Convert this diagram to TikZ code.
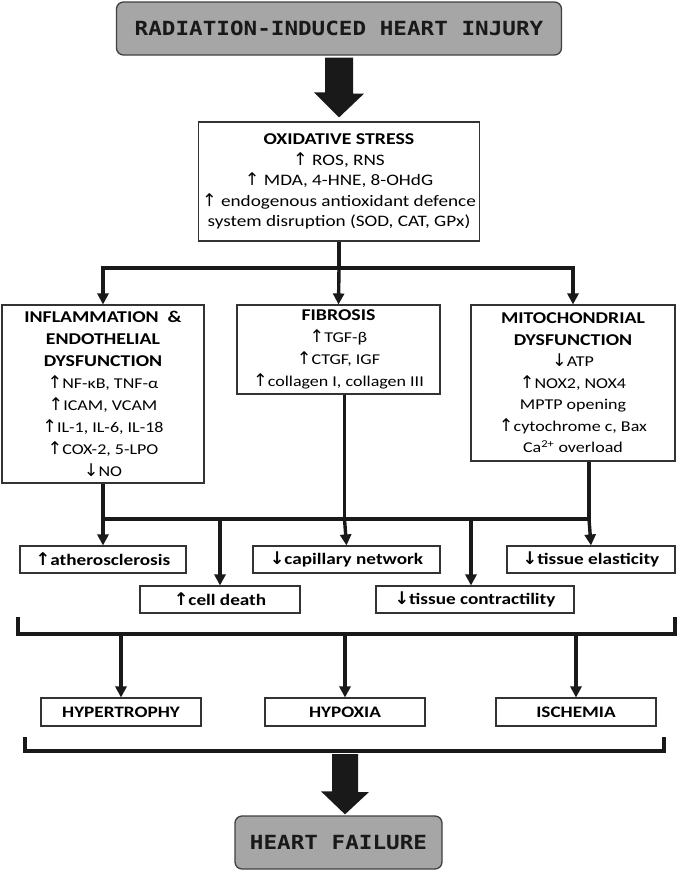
\documentclass[tikz,border=0pt]{standalone}
\usepackage{fontspec}
\setmainfont{Carlito}[FakeStretch=1.2]
\newfontfamily\headfont{DejaVu Sans Mono}[FakeStretch=1.16]
\newfontfamily\symfont{DejaVu Sans}
\usetikzlibrary{arrows.meta, positioning, calc}
\newcommand{\upar}{{\symfont\fontsize{17.5}{20}\selectfont ↑}}
\newcommand{\dnar}{{\symfont\fontsize{17.5}{20}\selectfont ↓}}
\newcommand{\hd}[1]{{\bfseries\fontsize{16.5}{22}\selectfont #1}}

\begin{document}
\begin{tikzpicture}[x=1pt, y=-1pt,
        headbox/.style={draw=black!75, line width=1.3pt, fill=black!35, rounded corners=7pt, font=\headfont\bfseries\fontsize{19.5}{24}\selectfont, text=black!90},
        box/.style={draw=black!80, line width=1.1pt, fill=white, align=center, inner sep=2pt, font=\fontsize{15}{21}\selectfont},
        effect/.style={draw=black!80, line width=1.1pt, fill=white, minimum height=27pt, inner sep=2pt, font=\bfseries\fontsize{16}{18}\selectfont},
        line/.style={line width=3.4pt, black!90},
        arrow/.style={line, -{Triangle[length=11pt, width=11pt]}},
        bigarrow/.style={fill=black!90}
    ]
        \useasboundingbox (0,0) rectangle (678,871);

        % === Top ===
        \node[headbox, minimum width=445pt, minimum height=53pt] (injury) at (339,28.5) {RADIATION-INDUCED HEART INJURY};

        \node[box, minimum width=281pt, minimum height=119pt, font=\fontsize{16}{20.5}\selectfont] (oxid) at (339,181.5)
            {\hd{OXIDATIVE STRESS}\\
             \upar\ ROS, RNS\\
             \upar\ MDA, 4-HNE, 8-OHdG\\
             \upar\ endogenous antioxidant defence\\
             system disruption (SOD, CAT, GPx)};

        % big arrow
        \fill[bigarrow] ($(injury.south)+(-14,2)$) -- ++(28,0) -- ++(0,36) -- ++(11,0)
            -- ($(oxid.north)+(0,-4)$) -- ++(-25,-25) -- ++(11,0) -- cycle;

        % === Mechanisms ===
        \node[box, minimum width=202pt, minimum height=178pt, font=\fontsize{15}{22}\selectfont] (inflam) at (103,394)
            {\hd{INFLAMMATION \ \&}\\
             \hd{ENDOTHELIAL}\\
             \hd{DYSFUNCTION}\\
             \upar NF-κB, TNF-α\\
             \upar ICAM, VCAM\\
             \upar IL-1, IL-6, IL-18\\
             \upar COX-2, 5-LPO\\
             \dnar NO};

        \node[box, minimum width=203pt, minimum height=89pt, font=\fontsize{15}{22}\selectfont] (fibro) at (338.5,349.5)
            {\hd{FIBROSIS}\\
             \upar TGF-β\\
             \upar CTGF, IGF\\
             \upar collagen I, collagen III};

        \node[box, minimum width=204pt, minimum height=156pt, font=\fontsize{15}{21.5}\selectfont] (mito) at (573,383)
            {\hd{MITOCHONDRIAL}\\
             \hd{DYSFUNCTION}\\
             \dnar ATP\\
             \upar NOX2, NOX4\\
             MPTP opening\\
             \upar cytochrome c, Bax\\
             Ca\textsuperscript{2+} overload};

        \coordinate (split) at (339,268);
        \draw[line] (oxid.south) -- (split);
        \draw[arrow] (split) -- (fibro.north);
        \draw[arrow] (split) -| (inflam.north);
        \draw[arrow] (split) -| (mito.north);

        % === Effects ===
        \node[effect, minimum width=166pt] (athero) at (103,559.5) {\upar atherosclerosis};
        \node[effect, minimum width=187pt] (capil) at (346.5,559.5) {\dnar capillary network};
        \node[effect, minimum width=168pt] (elastic) at (591,559.5) {\dnar tissue elasticity};
        \node[effect, minimum width=160pt] (death) at (220,599.5) {\upar cell death};
        \node[effect, minimum width=198pt] (contract) at (475,599.5) {\dnar tissue contractility};

        \coordinate (bus) at (345,519);
        \coordinate (fibout) at ([xshift=6pt]fibro.south);
        \coordinate (mitoout) at ([xshift=16pt]mito.south);
        \draw[line] (inflam.south) |- (mitoout |- bus) -- (mitoout);
        \draw[line] (fibout) -- (fibout |- bus);

        \draw[arrow] (inflam.south |- bus) -- (athero.north);
        \draw[arrow] (death.north |- bus) -- (death.north);
        \draw[arrow] (fibout |- bus) -- (capil.north);
        \draw[arrow] ([xshift=-4pt]contract.north |- bus) -- ([xshift=-4pt]contract.north);
        \draw[arrow] (mitoout |- bus) -- (elastic.north);

        % === Outcomes ===
        \draw[line] (18,617) |- (675,634) -- (675,617);
        \coordinate (brace1) at (345,634);

        \node[effect, minimum width=160pt, minimum height=28pt] (hyper) at (121,712) {HYPERTROPHY};
        \node[effect, minimum width=160pt, minimum height=28pt] (hypox) at (345,712) {HYPOXIA};
        \node[effect, minimum width=160pt, minimum height=28pt] (isch) at (576,712) {ISCHEMIA};

        \draw[arrow] (hyper.north |- brace1) -- (hyper.north);
        \draw[arrow] (hypox.north |- brace1) -- (hypox.north);
        \draw[arrow] (isch.north |- brace1) -- (isch.north);

        \draw[line] (25,737) |- (664,751) -- (664,737);

        % === Bottom ===
        \node[headbox, minimum width=207pt, minimum height=53pt] (failure) at (338.5,842.5) {HEART FAILURE};

        \coordinate (brace2) at (345,751);
        \fill[bigarrow] ($(brace2)+(-13,3)$) -- ++(26,0) -- ++(0,38) -- ++(11,0)
            -- ($(failure.north -| brace2)+(0,-1)$) -- ++(-24,-23) -- ++(11,0) -- cycle;

    \end{tikzpicture}
\end{document}
